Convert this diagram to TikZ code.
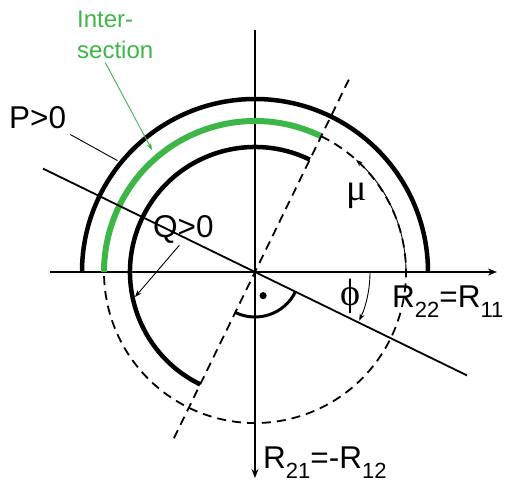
\documentclass[tikz,border=0pt]{standalone}
\usepackage{fontspec}
\setmainfont{Liberation Sans}
\newfontfamily\greekfont{Liberation Serif}
\usetikzlibrary{arrows.meta}
\definecolor{interg}{RGB}{61,182,72}
\newcommand{\subs}[1]{\raisebox{-10pt}{\fontsize{22}{22}\selectfont #1}}
\begin{document}
\begin{tikzpicture}[x=1pt,y=1pt,
  axis/.style={line width=1.8pt,-{Stealth[length=9pt,width=7pt]}},
  bigarc/.style={line width=4.5pt},
  greenarc/.style={line width=6pt,draw=interg},
  dashline/.style={line width=1.8pt,dash pattern=on 9pt off 6pt},
  solidline/.style={line width=1.8pt},
  thinarrow/.style={line width=0.9pt,-{Stealth[length=7pt,width=5pt]}},
  biglabel/.style={font=\fontsize{31.5}{31.5}\selectfont,inner sep=0pt},
  greenlabel/.style={font=\fontsize{24}{24}\selectfont,text=interg,inner sep=0pt,anchor=base west},
  greeklabel/.style={font=\greekfont\fontsize{38}{38}\selectfont,inner sep=0pt}]
\useasboundingbox (-255,-211) rectangle (253,272);
% axes
\coordinate (O) at (0,0);
\coordinate (xl) at (-205,0);
\coordinate (xr) at (242,0);
\coordinate (yt) at (0,242);
\coordinate (yb) at (0,-206);
\draw[axis] (xl) -- (xr);
\draw[axis] (yt) -- (yb);
% circles and arcs
\coordinate (dstart) at (64:151);
\draw[dashline] (dstart) arc[start angle=64,end angle=-180,radius=151];
\coordinate (ostart) at (0:173);
\draw[bigarc] (ostart) arc[start angle=0,end angle=180,radius=173];
\coordinate (gstart) at (64:151);
\draw[greenarc] (gstart) arc[start angle=64,end angle=180,radius=151];
\coordinate (istart) at (64:125);
\draw[bigarc] (istart) arc[start angle=64,end angle=244,radius=125];
% lines through origin
\coordinate (s1) at (154:236);
\coordinate (s2) at (-26:236);
\draw[solidline] (s1) -- (s2);
\coordinate (d1) at (64:214);
\coordinate (d2) at (244:191);
\draw[dashline] (d1) -- (d2);
% angle arcs
\coordinate (phistart) at (0:115);
\draw[thinarrow] (phistart) arc[start angle=0,end angle=-25,radius=115];
\coordinate (mustart) at (0:151);
\draw[thinarrow] (mustart) arc[start angle=0,end angle=48,radius=151];
\coordinate (rastart) at (244:45);
\draw[line width=3pt] (rastart) arc[start angle=244,end angle=334,radius=45];
\coordinate (dot) at (289:25);
\fill (dot) circle (3.6);
% labels
\node[greenlabel] (inter) at (-178,245) {Inter-};
\node[greenlabel] (sect) at (-178,214) {section};
\coordinate (gtip) at (-103,122);
\draw[line width=0.9pt,draw=interg,-{Stealth[length=7pt,width=5pt]}] ([xshift=-10pt,yshift=-4pt]sect.south) -- (gtip);
\node[biglabel,anchor=base west] (P) at (-246,144) {P>0};
\coordinate (ptip) at (141:177);
\draw[line width=0.9pt] ([xshift=4pt,yshift=-6pt]P.south east) -- (ptip);
\node[biglabel,anchor=base west] (Q) at (-102,35) {Q>0};
\coordinate (qtip) at (-120,-25);
\draw[thinarrow] ([xshift=-4pt,yshift=-2pt]Q.south) -- (qtip);
\node[greeklabel] (mu) at (102,76) {μ};
\node[greeklabel] (phi) at (95,-24) {ϕ};
\node[biglabel,anchor=base west] (R22) at (137,-35) {R\subs{22}=R\subs{11}};
\node[biglabel,anchor=base west] (R21) at (8,-196) {R\subs{21}=-R\subs{12}};
\end{tikzpicture}
\end{document}
